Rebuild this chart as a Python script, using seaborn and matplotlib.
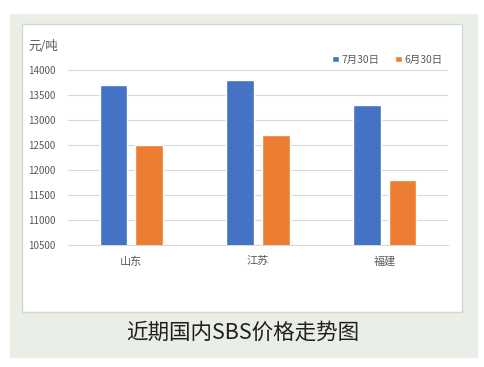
import matplotlib
matplotlib.use("Agg")
import matplotlib.pyplot as plt
import pandas as pd
import seaborn as sns
from matplotlib.patches import Rectangle

# %% data
provinces = ["山东", "江苏", "福建"]
series_names = ["7月30日", "6月30日"]
jul30 = [13700, 13800, 13300]
jun30 = [12500, 12700, 11800]
yticks = [10500, 11000, 11500, 12000, 12500, 13000, 13500, 14000]

df = pd.DataFrame({
    "province": provinces * 2,
    "date": [series_names[0]] * 3 + [series_names[1]] * 3,
    "price": jul30 + jun30,
})

# %% style
sns.set_style("white")
plt.rcParams["font.family"] = ["Noto Sans CJK SC", "DejaVu Sans"]

fig = plt.figure(figsize=(4.85, 3.67), dpi=100)
W, H = 485, 367
# green panel and white inner box (behind the axes)
fig.patches.append(Rectangle((10 / W, 1 - 357 / H), 467 / W, 343 / H,
                             transform=fig.transFigure, color="#e9eee7", zorder=-10))
fig.patches.append(Rectangle((22 / W, 1 - 312 / H), 440 / W, 288 / H,
                             transform=fig.transFigure, facecolor="white",
                             edgecolor="#d6d6d6", linewidth=1, zorder=-9))

ax = fig.add_axes([68 / W, 1 - 245 / H, 380 / W, 175 / H])
ax.set_facecolor("none")
sns.barplot(data=df, x="province", y="price", hue="date",
            palette=["#4472C4", "#ED7D31"], saturation=1, width=0.56, gap=0.22,
            ax=ax, zorder=3)

ax.set_ylim(10500, 14000)
ax.set_xlim(-0.5, 2.5)
ax.set_yticks(yticks)
ax.yaxis.grid(True, color="#d9d9d9", linewidth=0.8)
ax.set_axisbelow(True)
for s in ["top", "right", "left"]:
    ax.spines[s].set_visible(False)
ax.spines["bottom"].set_color("#d9d9d9")
ax.tick_params(axis="both", length=0, colors="#595959", labelsize=7)
ax.tick_params(axis="x", pad=8, labelsize=8)
ax.tick_params(axis="y", pad=9)
ax.set_xlabel("")
ax.set_ylabel("")

ax.legend(loc="lower right", bbox_to_anchor=(1.0, 1.0), ncol=2, frameon=False,
          fontsize=7.5, handlelength=0.6, handleheight=0.6, handletextpad=0.3,
          columnspacing=1.5, labelcolor="#595959", borderaxespad=0.1)

fig.text(28 / W, 1 - 47 / H, "元/吨", fontsize=9, color="#595959", va="center")
fig.text(243 / W, 1 - 333 / H, "近期国内SBS价格走势图", fontsize=15.5,
         color="#231f20", ha="center", va="center")

fig.savefig("out.png", dpi=100)
